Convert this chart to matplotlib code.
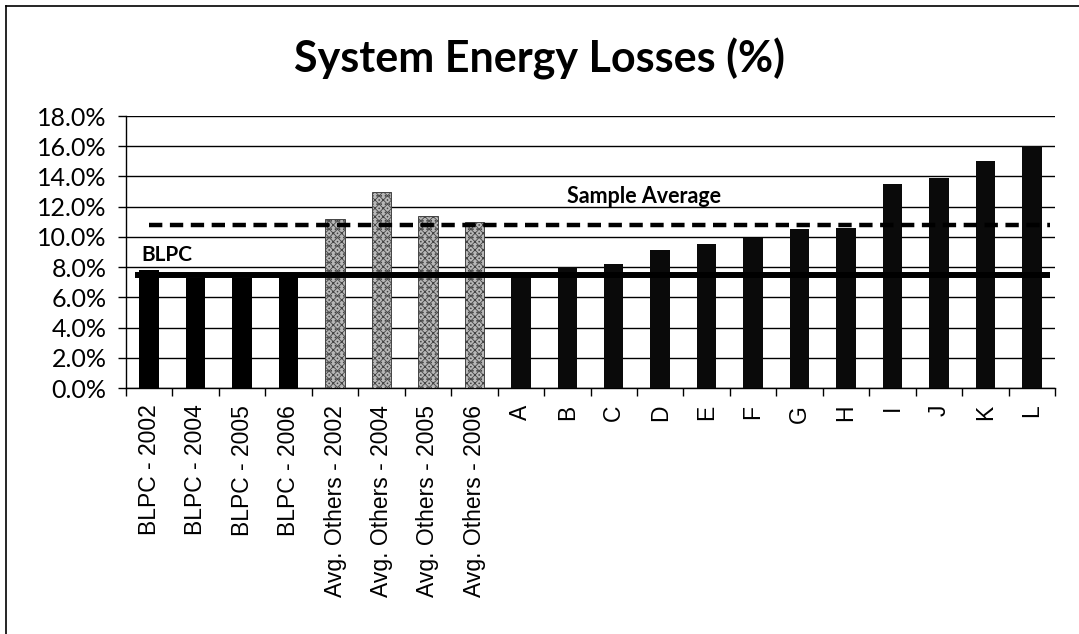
import matplotlib
matplotlib.use("Agg")
import matplotlib.pyplot as plt
from matplotlib.lines import Line2D
from matplotlib.ticker import FuncFormatter, MultipleLocator
import numpy as np

categories = ["BLPC - 2002", "BLPC - 2004", "BLPC - 2005", "BLPC - 2006",
              "Avg. Others - 2002", "Avg. Others - 2004", "Avg. Others - 2005",
              "Avg. Others - 2006",
              "A", "B", "C", "D", "E", "F", "G", "H", "I", "J", "K", "L"]
blpc_values = [7.8, 7.3, 7.3, 7.5]
others_avg_values = [11.2, 13.0, 11.4, 11.0]
utility_values = [7.5, 8.0, 8.2, 9.1, 9.5, 9.9, 10.5, 10.6, 13.5, 13.9, 15.0, 16.0]
blpc_reference = 7.5
sample_average = 10.8

fig = plt.figure(figsize=(10.79, 6.34), dpi=100)
fig.patch.set_facecolor("white")
ax = fig.add_axes([126 / 1079, 1 - 388 / 634, (1055 - 126) / 1079, (388 - 116) / 634])

x = np.arange(len(categories))
width = 0.42
n_b, n_o = len(blpc_values), len(others_avg_values)

ax.bar(x[:n_b], blpc_values, width=width, color="black", zorder=3)
plt.rcParams["hatch.color"] = "#2a2a2a"
plt.rcParams["hatch.linewidth"] = 0.6
ax.bar(x[n_b:n_b + n_o], others_avg_values, width=width, color="#b8b8b8",
       edgecolor="#444444", linewidth=0.7, hatch="xxxx....", zorder=3)
ax.bar(x[n_b + n_o:], utility_values, width=width, color="#0a0a0a", zorder=3)

# reference lines
ax.plot([-0.3, len(categories) - 0.6], [blpc_reference] * 2, color="black",
        lw=4.3, solid_capstyle="butt", zorder=4)
ax.plot([0.0, len(categories) - 0.6], [sample_average] * 2, color="black",
        lw=3.2, dashes=(3.0, 1.7), zorder=4)

ax.text(-0.17, blpc_reference + 1.3, "BLPC", fontsize=15, fontweight="bold",
        family="Lato", ha="left", va="center")
ax.text(9.0, 12.7, "Sample Average", fontsize=15.5, fontweight="bold",
        family="Lato", ha="left", va="center")

ax.set_xlim(-0.5, len(categories) - 0.5)
ax.set_ylim(0, 18)
ax.yaxis.set_major_locator(MultipleLocator(2))
ax.yaxis.set_major_formatter(FuncFormatter(lambda v, p: f"{v:.1f}%"))
ax.grid(axis="y", color="black", lw=1.0, zorder=0)
ax.set_axisbelow(True)

ax.set_xticks(x)
ax.set_xticklabels(categories, rotation=90, fontsize=16.5, family="Liberation Sans")
ax.set_xticks(np.arange(-0.5, len(categories)), minor=True)
ax.tick_params(axis="x", which="major", length=0, pad=12)
ax.tick_params(axis="x", which="minor", length=6, width=1, direction="out")
ax.tick_params(axis="y", length=6, width=1, direction="out", labelsize=18, pad=8)
for lab in ax.get_yticklabels():
    lab.set_family("Lato")

for side in ("top", "right"):
    ax.spines[side].set_visible(False)
ax.spines["left"].set_linewidth(1.0)
ax.spines["bottom"].set_linewidth(1.0)

fig.text(0.5, 1 - 72 / 634, "System Energy Losses (%)", ha="center", va="baseline",
         fontsize=31, fontweight="bold", family="Lato")

# outer frame (top and left edges)
fig.add_artist(Line2D([6 / 1079, 1], [1 - 6 / 634, 1 - 6 / 634], color="black", lw=1.2,
                      transform=fig.transFigure))
fig.add_artist(Line2D([6 / 1079, 6 / 1079], [0, 1 - 6 / 634], color="black", lw=1.2,
                      transform=fig.transFigure))

fig.savefig("out.png", dpi=100, facecolor="white")
